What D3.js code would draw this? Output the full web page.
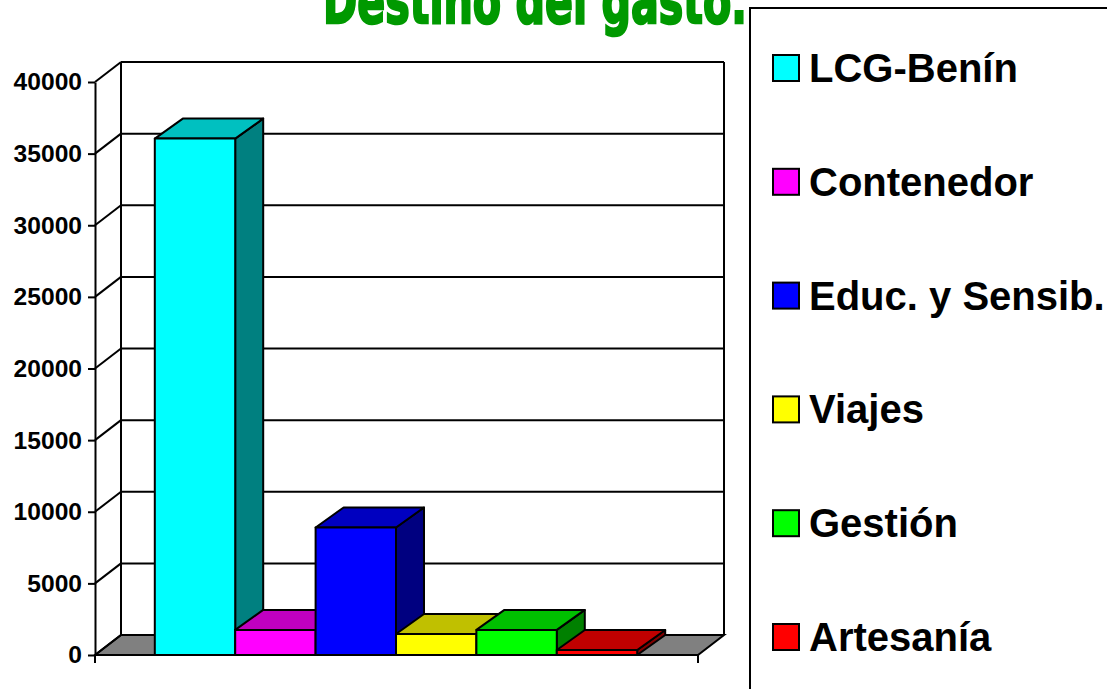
<!DOCTYPE html>
<html>
<head>
<meta charset="utf-8">
<script src="https://cdn.jsdelivr.net/npm/d3@7"></script>
<style>
  html, body { margin: 0; padding: 0; background: #fff; overflow: hidden; }
  text { font-family: "Liberation Sans", Arial, sans-serif; font-weight: bold; fill: #000; }
</style>
</head>
<body>
<div id="chart"></div>
<script>
const categories = ['LCG-Benín', 'Contenedor', 'Educ. y Sensib.', 'Viajes', 'Gestión', 'Artesanía'];
const values = [36050, 1750, 8900, 1470, 1750, 350];
const frontColors = ['#00ffff', '#ff00ff', '#0000ff', '#ffff00', '#00ff00', '#ff0000'];
const topColors = ['#00c0c0', '#c000c0', '#0000c0', '#c0c000', '#00c000', '#c00000'];
const sideColors = ['#008080', '#800080', '#000080', '#808000', '#008000', '#800000'];
const yTicks = [0, 5000, 10000, 15000, 20000, 25000, 30000, 35000, 40000];

const width = 1107, height = 689;
const floorY = 655, topY = 82, leftX = 95, rightX = 698;
const wallDx = 26, wallDy = 20;  // depth of the walls
const barDx = 28, barDy = 20;    // depth of the bars
const lineColor = '#000';
const lineWidth = 2;

const svg = d3.select('#chart').append('svg')
  .attr('width', width)
  .attr('height', height);

const y = d3.scaleLinear().domain([0, 40000]).range([floorY, topY]);
const x = d3.scaleBand().domain(categories).range([94.5, 697.5])
  .paddingInner(0).paddingOuter(0.75);

const poly = (pts) => pts.map(p => p.join(',')).join(' ');

// title, cut off by the top of the page
svg.append('text')
  .attr('x', 323)
  .attr('y', 23)
  .attr('textLength', 424)
  .attr('lengthAdjust', 'spacingAndGlyphs')
  .style('font-family', '"DejaVu Sans", sans-serif')
  .style('font-size', '62px')
  .style('fill', '#009900')
  .style('stroke', '#009900')
  .style('stroke-width', 2.5)
  .text('Destino del gasto.');

// floor
svg.append('polygon')
  .attr('points', poly([[leftX, floorY], [rightX, floorY], [rightX + wallDx, floorY - wallDy], [leftX + wallDx, floorY - wallDy]]))
  .attr('fill', '#808080')
  .attr('stroke', lineColor)
  .attr('stroke-width', lineWidth);

// walls: grid lines on the back wall and their return on the left wall
const grid = svg.append('g')
  .attr('fill', 'none')
  .attr('stroke', lineColor)
  .attr('stroke-width', lineWidth);

grid.selectAll('.back')
  .data(yTicks.filter(d => d > 0))
  .join('line')
  .attr('x1', leftX + wallDx)
  .attr('x2', rightX + wallDx)
  .attr('y1', d => y(d) - wallDy)
  .attr('y2', d => y(d) - wallDy);

grid.selectAll('.side')
  .data(yTicks)
  .join('line')
  .attr('x1', leftX)
  .attr('x2', leftX + wallDx)
  .attr('y1', d => y(d))
  .attr('y2', d => y(d) - wallDy);

grid.append('line')
  .attr('x1', leftX + wallDx).attr('x2', leftX + wallDx)
  .attr('y1', topY - wallDy).attr('y2', floorY - wallDy);
grid.append('line')
  .attr('x1', rightX + wallDx).attr('x2', rightX + wallDx)
  .attr('y1', topY - wallDy).attr('y2', floorY - wallDy);

// bars, left to right so that each one paints over the side of the last
const bars = svg.append('g')
  .attr('stroke', lineColor)
  .attr('stroke-width', lineWidth)
  .attr('stroke-linejoin', 'round');

categories.forEach((c, i) => {
  const x0 = x(c), x1 = x0 + x.bandwidth();
  const yTop = y(values[i]);
  bars.append('polygon')
    .attr('points', poly([[x1, floorY], [x1 + barDx, floorY - barDy], [x1 + barDx, yTop - barDy], [x1, yTop]]))
    .attr('fill', sideColors[i]);
  bars.append('polygon')
    .attr('points', poly([[x0, yTop], [x0 + barDx, yTop - barDy], [x1 + barDx, yTop - barDy], [x1, yTop]]))
    .attr('fill', topColors[i]);
  bars.append('rect')
    .attr('x', x0)
    .attr('y', yTop)
    .attr('width', x.bandwidth())
    .attr('height', floorY - yTop)
    .attr('fill', frontColors[i]);
});

// y axis
const yAxis = svg.append('g')
  .attr('transform', `translate(${leftX},0)`)
  .call(d3.axisLeft(y).tickValues(yTicks).tickSize(7).tickPadding(6).tickSizeOuter(0).tickFormat(d3.format('d')));
yAxis.selectAll('line').attr('stroke', lineColor).attr('stroke-width', lineWidth);
yAxis.select('.domain').attr('stroke', lineColor).attr('stroke-width', lineWidth);
yAxis.selectAll('text')
  .style('font-size', '24.6px')
  .style('font-family', '"Liberation Sans", Arial, sans-serif');

// x axis has only its line and end ticks
const xAxis = svg.append('g')
  .attr('stroke', lineColor)
  .attr('stroke-width', lineWidth);
xAxis.append('line').attr('x1', leftX).attr('x2', rightX).attr('y1', floorY).attr('y2', floorY);
xAxis.selectAll('.end')
  .data([leftX, rightX])
  .join('line')
  .attr('x1', d => d).attr('x2', d => d)
  .attr('y1', floorY).attr('y2', floorY + 8);

// legend box runs off the page on the right and at the bottom
const legend = svg.append('g');
legend.append('rect')
  .attr('x', 750).attr('y', 8)
  .attr('width', 400).attr('height', 720)
  .attr('fill', '#fff')
  .attr('stroke', lineColor)
  .attr('stroke-width', lineWidth);

const legendY = d3.scalePoint().domain(categories).range([68, 637]);

legend.selectAll('rect.swatch')
  .data(categories)
  .join('rect')
  .attr('class', 'swatch')
  .attr('x', 773)
  .attr('y', d => legendY(d) - 13)
  .attr('width', 26)
  .attr('height', 26)
  .attr('fill', (d, i) => frontColors[i])
  .attr('stroke', lineColor)
  .attr('stroke-width', lineWidth);

legend.selectAll('text')
  .data(categories)
  .join('text')
  .attr('x', 809)
  .attr('y', d => legendY(d))
  .attr('dy', '0.35em')
  .style('font-size', '40px')
  .text(d => d);
</script>
</body>
</html>
